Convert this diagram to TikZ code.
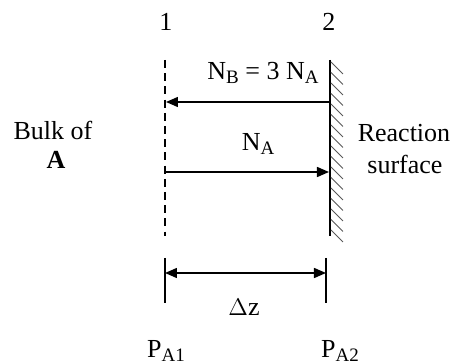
\documentclass[tikz,border=0pt]{standalone}
\usepackage{fontspec}
\setmainfont{Liberation Serif}
\usetikzlibrary{arrows.meta}
\newcommand{\sbs}[1]{\raisebox{-0.35ex}{\fontsize{9.5}{10}\selectfont #1}}
\begin{document}
\begin{tikzpicture}[x=0.5pt,y=-0.5pt, font=\fontsize{13}{15}\selectfont,
  lbl/.style={inner sep=0pt, anchor=center},
  flux/.style={line width=0.75pt, -{Triangle[length=6pt,width=5pt]}},
  dim/.style={line width=0.75pt, {Triangle[length=6pt,width=5pt]}-{Triangle[length=6pt,width=5pt]}},
  hatch/.style={line width=0.45pt, black!65},
  tick/.style={line width=0.6pt}]
\useasboundingbox (0,0) rectangle (452,363);
% planes
\coordinate (d1t) at (165,60);
\coordinate (d1b) at (165,236);
\coordinate (w2t) at (330,60);
\coordinate (w2b) at (330,236);
\draw[line width=0.6pt, dash pattern=on 4pt off 2.6pt] (d1t) -- (d1b);
\draw[line width=1pt] (w2t) -- (w2b);
\foreach \y in {62,72.5,...,236}{
  \draw[hatch] (331,\y) -- (343,\y+12);
}
% labels of planes
\node[lbl] (one) at (166,22) {1};
\node[lbl] (two) at (329,22) {2};
% flux arrows
\coordinate (a1s) at (330,102);
\coordinate (a1e) at (166,102);
\draw[flux] (a1s) -- (a1e);
\node[lbl] (nb) at (263,73) {N\sbs{B} = 3 N\sbs{A}};
\coordinate (a2s) at (166,172);
\coordinate (a2e) at (329,172);
\draw[flux] (a2s) -- (a2e);
\node[lbl] (na) at (258,144) {N\sbs{A}};
% dimension
\coordinate (t1t) at (165,258);
\coordinate (t1b) at (165,303);
\coordinate (t2t) at (326,258);
\coordinate (t2b) at (326,303);
\draw[tick] (t1t) -- (t1b);
\draw[tick] (t2t) -- (t2b);
\coordinate (m1) at (165,273);
\coordinate (m2) at (326,273);
\draw[dim] (m1) -- (m2);
\node[lbl] (dz) at (244,307) {$\Delta$z};
\node[lbl] (pa1) at (166,351) {P\sbs{A1}};
\node[lbl] (pa2) at (340,351) {P\sbs{A2}};
% side labels
\node[lbl] (bulk) at (53,130) {Bulk of};
\node[lbl] (bulkA) at (56,160) {\textbf{A}};
\node[lbl] (reac) at (404,133) {Reaction};
\node[lbl] (surf) at (405,164) {surface};
\end{tikzpicture}
\end{document}
